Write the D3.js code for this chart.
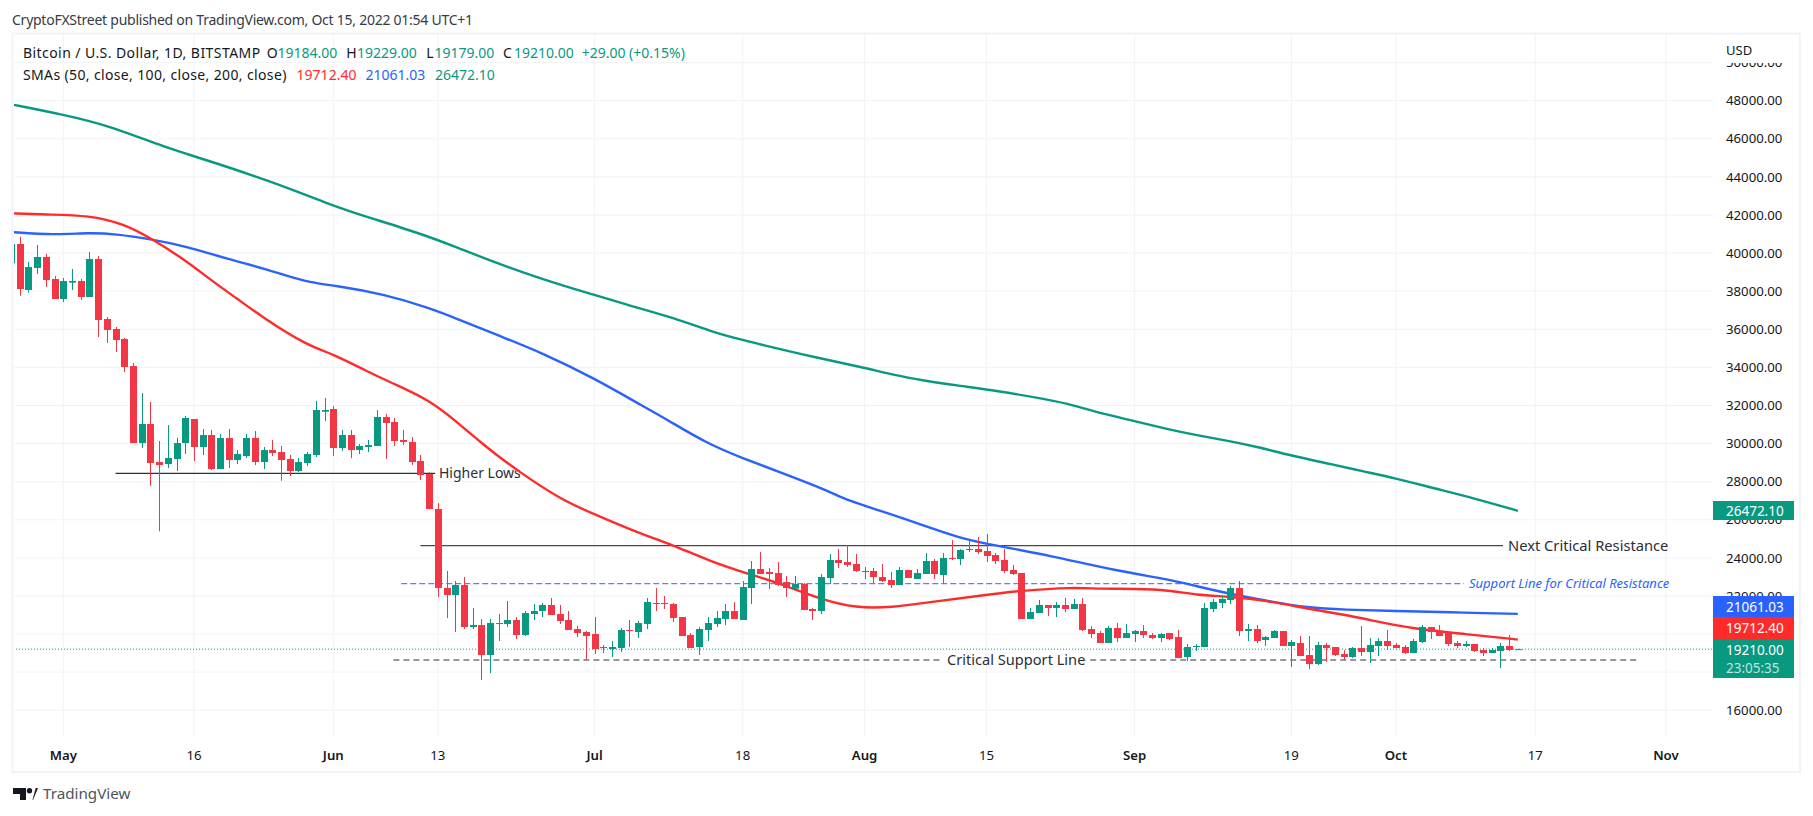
<!DOCTYPE html>
<html>
<head>
<meta charset="utf-8">
<title>BTC/USD</title>
<script src="https://cdn.jsdelivr.net/npm/d3@7"></script>
<style>
  html, body { margin: 0; padding: 0; background: #fff; }
  svg { display: block; font-family: "Noto Sans", sans-serif; }
</style>
</head>
<body>
<svg id="chart" width="1813" height="816"></svg>
<script>
// daily candles, first one is Apr 25 2022
const opens = [39463,40478,38063,39218,39796,38640,37590,38448,38535,37696,39690,36540,36015,35490,34073,30030,31028,29033,28928,29190,
  30030,31290,29820,30450,28665,30293,29138,29348,30293,29033,29663,29558,29190,28560,28980,29400,31675,31815,29768,30450,
  29663,29820,29873,31395,31133,30188,30083,29086,28404,26566,22419,22051,22576,20371,20476,18901,20581,20529,20739,19952,
  21054,21212,21527,21054,20739,20266,20109,20004,19322,19217,19270,20214,20109,20529,21632,21632,21579,20896,19952,19322,
  20214,20529,20791,21212,20739,22419,23416,23259,23207,22734,22384,22629,21317,21212,22944,23889,23784,23679,23312,23312,
  22996,22839,22576,23364,22891,23154,23836,23102,23994,23941,24414,24466,24362,24152,23889,23364,23207,20791,21107,21527,
  21369,21527,21317,21579,20266,20056,19532,20319,19794,20004,20161,19952,19794,20056,19847,18797,19322,19322,21317,21632,
  21789,22419,20161,20266,19689,19794,20161,19374,19532,18901,18429,19427,19322,18954,18797,19269,19059,19374,19637,19428,
  19322,19007,19585,20372,20162,20057,19532,19375,19480,19165,19007,19112,19375,19184];
const highs = [40600,40863,39533,40425,39953,38798,38693,39166,38640,40058,39848,36646,36120,35543,34230,32655,32183,30135,30975,30293,
  31448,31290,30765,30713,30503,30765,29663,30503,30660,29820,30188,29873,29400,29243,29558,32235,32393,31973,30713,30713,
  29978,30188,31763,31553,31343,30713,30345,29401,28509,26881,23311,22786,22996,21369,20791,20791,21054,21737,20896,21212,
  21579,21632,21894,21527,21212,20424,20161,20896,19427,19637,20319,20739,20687,21894,22419,21999,21632,20896,20056,20371,
  20896,21212,21579,21684,22786,23836,24309,23469,23784,23049,23049,22681,21369,23154,24204,24466,24676,24204,23522,23469,
  23679,23259,23522,23364,23417,24257,23941,24257,24939,24466,24939,25096,25254,24257,24466,23626,23207,21369,21789,21527,
  21684,21894,21842,21894,20424,20161,20424,20581,20529,20214,20476,20056,20056,20056,20214,19479,19479,21632,21842,21999,
  22524,22786,20529,20476,19899,20214,20161,19689,19899,19899,19584,19532,19322,19164,19322,20424,19794,19794,20215,19532,
  19427,19742,20477,20372,20477,20110,19637,19637,19480,19270,19270,19532,19953,19229];
const lows = [39300,37765,37923,38903,38221,37590,37433,38063,37538,37696,35595,35280,34808,33758,30030,29768,27775,25400,28718,28560,
  29453,29085,29400,28613,28665,28718,28928,29243,28875,28665,29348,28050,28298,28508,28823,29295,31185,29348,29610,29243,
  29453,29558,29873,29190,29873,29925,28875,28089,26549,21946,20844,20109,20266,20266,17589,17957,19637,20371,19742,19899,
  20739,20897,21002,20529,20214,19847,18639,18954,19007,18797,19059,19322,19794,20266,21212,21317,20634,19899,19270,18901,
  19637,20371,20476,20791,20739,21579,23154,22367,22524,21946,22314,21264,20739,21054,22629,23469,23522,23259,22891,22681,
  22734,22419,22576,22944,22891,23154,22891,22681,23889,23626,24309,24204,23784,23679,23206,23102,20791,20791,21107,20949,
  20897,21159,21317,20161,19794,19532,19532,19584,19794,19584,19794,19742,19584,19689,18744,18587,19112,19322,21159,21369,
  21579,19899,19637,19532,19374,19794,19374,18272,18849,18167,18377,18534,18849,18639,18744,18849,18482,18849,19165,19253,
  18955,19007,19532,19742,19900,19375,19270,19322,19060,18850,19007,18220,19112,19179];
const closes = [40478,38115,39270,39796,38588,37590,38535,38535,37696,39690,36488,35963,35438,34020,30030,31028,28980,28875,29243,30030,
  31343,29820,30450,28665,30293,29138,29453,30293,29033,29663,29505,29138,28560,29033,29453,31763,31763,29768,30450,29663,
  29873,29925,31395,31080,30135,30083,29033,28351,26566,22419,22051,22576,20371,20476,18901,20581,20529,20739,19952,21107,
  21212,21527,21002,20687,20214,20057,19899,19217,19270,19322,20214,20161,20581,21684,21579,21579,20844,19899,19270,20266,
  20581,20844,21212,20791,22471,23416,23154,23154,22576,22419,22629,21264,21212,22996,23889,23732,23627,23312,23259,22996,
  22786,22576,23364,22944,23207,23836,23154,23994,23941,24414,24466,24309,24099,23836,23312,23154,20791,21159,21527,21369,
  21527,21317,21579,20214,20004,19532,20319,19794,20056,20161,19952,19794,20004,19742,18744,19322,19374,21369,21684,21842,
  22419,20161,20266,19637,19847,20161,19374,19584,18849,18429,19427,19269,18901,18797,19269,19059,19427,19637,19375,19270,
  19007,19637,20372,20110,19900,19480,19375,19480,19112,19007,19165,19375,19165,19210];

// moving averages, sampled every few days, day number counted from May 1
const sma200Days = [-6,0,5,12,15,24,31,35,41,45,50,55,61,65,70,75,78,83,86,92,95,99,103,107,113,116,119,123,127,130,134,137,141,146,149,153,157,162,167];
const sma200 = [47811,47265,46724,45501,45097,43754,42473,41880,41029,40336,39428,38625,37801,37245,36620,35780,35439,34877,34563,33985,33628,33287,33025,32788,32316,32017,31592,31187,30731,30453,30122,29838,29366,28878,28563,28180,27697,27130,26472];
const sma100Days = [-6,-1,3,6,10,14,19,23,28,31,37,42,45,50,55,61,67,69,74,78,83,88,90,94,98,103,107,113,121,127,130,134,138,143,147,153,159,167];
const sma100 = [41108,40951,41071,41003,40741,40373,39665,39218,38447,38326,37827,37119,36594,35665,34757,33429,31844,31345,29980,29230,28379,27487,27025,26447,25834,25020,24652,24154,23314,22868,22527,22107,21755,21372,21283,21214,21146,21061];
const sma50Days = [-6,-2,3,7,10,14,17,20,23,28,31,35,38,42,45,48,50,52,57,61,66,70,74,79,82,87,91,95,100,105,110,116,119,123,127,130,134,138,143,147,150,155,161,167];
const sma50 = [42090,42021,41985,41528,40793,39638,38562,37591,36594,35150,34704,33759,33130,32290,31214,30033,29324,28631,27093,26280,25309,24679,23865,23104,22710,21818,21372,21387,21713,22002,22290,22458,22369,22385,22306,22054,21965,21776,21319,21025,20742,20269,20007,19712];

const priceTicks = [50000,48000,46000,44000,42000,40000,38000,36000,34000,32000,30000,28000,26000,24000,22000,20000,18000,16000];
const hiddenPriceLabels = [20000, 18000]; // fully under the value boxes
const timeTickDays = [0,15,31,43,61,78,92,106,123,141,153,169,184];
const timeTickLabels = ['May','16','Jun','13','Jul','18','Aug','15','Sep','19','Oct','17','Nov'];
const monthTicks = ['May','Jun','Jul','Aug','Sep','Oct','Nov'];

const lastClose = 19210;
const sma50Last = 19712.40, sma100Last = 21061.03, sma200Last = 26472.10;
const countdown = '23:05:35';

// hand drawn lines: price, from day, to day
const higherLows = {price: 28441, from: 6, to: 42.7, label: 'Higher Lows'};
const nextResistance = {price: 24640, from: 41, to: 165.3, label: 'Next Critical Resistance'};
const supportForResistance = {price: 22645, from: 38.8, to: 160.8, label: 'Support Line for Critical Resistance'};
const criticalSupport = {price: 18640, from: 37.9, to: 181, gapFrom: 100.6, gapTo: 117.9, label: 'Critical Support Line'};

const green = '#089981', red = '#F23645';
const lineRed = '#FF2B2B', lineBlue = '#2962FF', lineGreen = '#089981';
const textCol = '#131722';

const pane = {left: 13, right: 1713, top: 34, bottom: 737, outerRight: 1800, outerBottom: 772};

const svg = d3.select('#chart');

const dayToDate = n => new Date(Date.UTC(2022, 4, 1 + n));
const xScale = d3.scaleUtc()
  .domain([dayToDate(0), dayToDate(184)])
  .range([63.3, 1665.9]);
const xDay = n => xScale(new Date(Date.UTC(2022, 4, 1) + n * 864e5));
const yScale = d3.scaleLinear()
  .domain([16000, 48000])
  .range([710.3, 100.7]);

// frame
svg.append('rect')
  .attr('x', 12.5).attr('y', 33.5)
  .attr('width', pane.outerRight - 12.5).attr('height', pane.outerBottom - 33.5)
  .attr('fill', 'none').attr('stroke', '#F0F3FA').attr('stroke-width', 2);

// grid
const gridCol = '#F2F3F6';
svg.append('g').selectAll('line').data(priceTicks.filter(d => yScale(d) > pane.top)).join('line')
  .attr('x1', pane.left + 1).attr('x2', pane.right)
  .attr('y1', d => yScale(d)).attr('y2', d => yScale(d))
  .attr('stroke', gridCol);
svg.append('g').selectAll('line').data(timeTickDays).join('line')
  .attr('x1', d => xDay(d)).attr('x2', d => xDay(d))
  .attr('y1', pane.top).attr('y2', pane.bottom)
  .attr('stroke', gridCol);

svg.append('clipPath').attr('id', 'paneClip').append('rect')
  .attr('x', pane.left + 1).attr('y', pane.top)
  .attr('width', pane.right - pane.left - 1).attr('height', pane.bottom - pane.top);

const plot = svg.append('g').attr('clip-path', 'url(#paneClip)');

// last price dotted line
plot.append('line')
  .attr('x1', pane.left).attr('x2', pane.right)
  .attr('y1', yScale(lastClose)).attr('y2', yScale(lastClose))
  .attr('stroke', green).attr('stroke-dasharray', '1 2');

// drawings
const hline = (a, from, to, color, dash, w) => plot.append('line')
  .attr('x1', xDay(from)).attr('x2', xDay(to))
  .attr('y1', yScale(a.price)).attr('y2', yScale(a.price))
  .attr('stroke', color).attr('stroke-width', w)
  .attr('stroke-dasharray', dash);

hline(higherLows, higherLows.from, higherLows.to, '#000', null, 1);
hline(nextResistance, nextResistance.from, nextResistance.to, '#4a4a4a', null, 1.3);
hline(supportForResistance, supportForResistance.from, supportForResistance.to, '#5b82f5', '6 3', 1.3);
hline(criticalSupport, criticalSupport.from, criticalSupport.gapFrom, '#333', '6 4', 1.1);
hline(criticalSupport, criticalSupport.gapTo, criticalSupport.to, '#333', '6 4', 1.1);

const drawingText = (txt, x, price, size, color, style) => plot.append('text')
  .attr('x', x).attr('y', yScale(price)).attr('dy', '0.35em')
  .attr('font-size', size).attr('fill', color).attr('font-style', style || 'normal')
  .text(txt);

drawingText(higherLows.label, 439, higherLows.price, 14, '#2a2e39');
drawingText(nextResistance.label, 1508, nextResistance.price, 14.7, '#2a2e39');
drawingText(supportForResistance.label, 1469, supportForResistance.price, 13, '#2962FF', 'italic');
drawingText(criticalSupport.label, 947, criticalSupport.price, 14.6, '#2a2e39');

// moving averages
const smaLine = d3.line().x(d => xDay(d[0])).y(d => yScale(d[1])).curve(d3.curveBasis);
const smas = [
  {days: sma200Days, values: sma200, color: lineGreen},
  {days: sma100Days, values: sma100, color: lineBlue},
  {days: sma50Days, values: sma50, color: lineRed}
];
smas.forEach(s => {
  plot.append('path')
    .attr('d', smaLine(s.days.map((d, i) => [d, s.values[i]])))
    .attr('fill', 'none').attr('stroke', s.color).attr('stroke-width', 2.4);
});

// candles
const candles = opens.map((o, i) => ({day: i - 6, o, h: highs[i], l: lows[i], c: closes[i]}));
const candleG = plot.append('g').selectAll('g').data(candles).join('g')
  .attr('fill', d => d.c >= d.o ? green : red)
  .attr('stroke', d => d.c >= d.o ? green : red);
candleG.append('line')
  .attr('x1', d => Math.round(xDay(d.day)) + 0.5).attr('x2', d => Math.round(xDay(d.day)) + 0.5)
  .attr('y1', d => yScale(d.h)).attr('y2', d => yScale(d.l))
  .attr('stroke-width', 1);
candleG.append('rect')
  .attr('x', d => Math.round(xDay(d.day)) - 3)
  .attr('width', 7)
  .attr('y', d => yScale(Math.max(d.o, d.c)))
  .attr('height', d => Math.max(1, Math.abs(yScale(d.o) - yScale(d.c))))
  .attr('stroke', 'none');

// price axis
const axisG = svg.append('g');
svg.append('clipPath').attr('id', 'axisClip').append('rect')
  .attr('x', pane.right).attr('y', 63).attr('width', 85).attr('height', 674);
axisG.append('g').attr('clip-path', 'url(#axisClip)')
  .selectAll('text').data(priceTicks.filter(d => !hiddenPriceLabels.includes(d))).join('text')
  .attr('x', 1726).attr('y', d => yScale(d)).attr('dy', '0.35em')
  .attr('font-size', 13.2).attr('fill', textCol)
  .text(d => d.toFixed(2));
axisG.append('text').attr('x', 1726).attr('y', 50).attr('dy', '0.35em')
  .attr('font-size', 13).attr('fill', textCol).text('USD');

// value labels on the axis
const priceBox = (color, y0, y1) => axisG.append('rect')
  .attr('x', pane.right).attr('y', y0)
  .attr('width', 81).attr('height', y1 - y0).attr('fill', color);
const boxText = (txt, y, op) => axisG.append('text').attr('x', 1726).attr('y', y).attr('dy', '0.35em')
  .attr('font-size', 13.5).attr('fill', '#fff').attr('fill-opacity', op).text(txt);

priceBox(lineGreen, 501, 520);
boxText(sma200Last.toFixed(2), 511, 1);
priceBox(lineBlue, 596, 617);
boxText(sma100Last.toFixed(2), 607, 1);
priceBox(lineRed, 617, 639);
boxText(sma50Last.toFixed(2), 628, 1);
priceBox(green, 639, 678);
boxText(lastClose.toFixed(2), 650, 1);
boxText(countdown, 668, 0.75);

// time axis
svg.append('g').selectAll('text').data(timeTickDays).join('text')
  .attr('x', d => xDay(d)).attr('y', 755).attr('dy', '0.35em')
  .attr('text-anchor', 'middle').attr('font-size', 13.2).attr('fill', textCol)
  .attr('font-weight', (d, i) => monthTicks.includes(timeTickLabels[i]) ? 600 : 400)
  .text((d, i) => timeTickLabels[i]);

// header and legend
const label = (txt, x, y, color, size, spacing) => svg.append('text')
  .attr('x', x).attr('y', y).attr('dy', '0.35em')
  .attr('font-size', size || 14).attr('fill', color || textCol)
  .attr('letter-spacing', spacing || 0).text(txt);

label('CryptoFXStreet published on TradingView.com, Oct 15, 2022 01:54 UTC+1', 12, 20, '#363a45', 14)
  .attr('textLength', 461).attr('lengthAdjust', 'spacing');

const legendLetters = ['O', 'H', 'L', 'C'];
const legendValues = ['19184.00', '19229.00', '19179.00', '19210.00'];
const legendLetterX = [266.7, 346.3, 426.3, 503];
const legendValueX = [277.5, 357, 434.5, 514];
label('Bitcoin / U.S. Dollar, 1D, BITSTAMP', 23, 53, textCol, 14, 0.43);
legendLetters.forEach((l, i) => {
  label(l, legendLetterX[i], 53);
  label(legendValues[i], legendValueX[i], 53, green);
});
label('+29.00 (+0.15%)', 581.7, 53, green);
label('SMAs (50, close, 100, close, 200, close)', 23, 75, textCol, 14, 0.36);
label(sma50Last.toFixed(2), 296.6, 75, lineRed);
label(sma100Last.toFixed(2), 365.5, 75, lineBlue);
label(sma200Last.toFixed(2), 435, 75, lineGreen);

// TradingView mark
const logo = svg.append('g').attr('fill', '#131722');
logo.append('path').attr('d', 'M13 788H26V800H20V794H13Z');
logo.append('circle').attr('cx', 29.5).attr('cy', 790.7).attr('r', 2.7);
logo.append('path').attr('d', 'M32.5 800L35.7 788H38L33 800Z');
label('TradingView', 43, 794, '#50535e', 15.2);
</script>
</body>
</html>
